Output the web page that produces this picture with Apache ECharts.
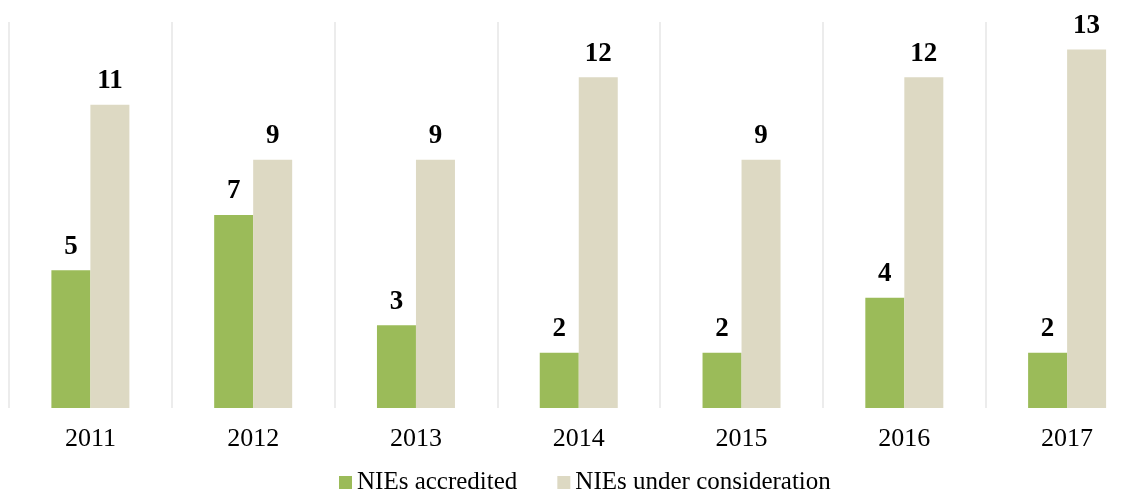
<!DOCTYPE html>
<html><head><meta charset="utf-8">
<script src="https://cdn.jsdelivr.net/npm/echarts@6/dist/echarts.min.js"></script>
<style>html,body{margin:0;padding:0;background:#fff;overflow:hidden}#c{width:1139px;height:491px}</style>
</head><body><div id="c"></div>
<script>
const categories = ['2011','2012','2013','2014','2015','2016','2017'];
const accredited = [5, 7, 3, 2, 2, 4, 2];
const underConsideration = [11, 9, 9, 12, 9, 12, 13];
const FONT = '"Liberation Serif", serif';
const chart = echarts.init(document.getElementById('c'));
const lbl = {show:true, position:'top', distance:10, fontFamily:FONT, fontWeight:'bold', fontSize:27, color:'#000'};
chart.setOption({
  animation:false,
  grid:{left:9, width:1139.5, top:22, height:386, containLabel:false, outerBoundsMode:'none'},
  legend:{top:465, left:334, itemWidth:13, itemHeight:13, itemGap:40, icon:'rect',
    textStyle:{fontFamily:FONT, fontSize:25, color:'#000'}},
  xAxis:{type:'category', data:categories, axisLine:{show:false}, axisTick:{show:false},
    axisLabel:{fontFamily:FONT, fontSize:26, color:'#000', margin:18},
    splitLine:{show:true, lineStyle:{color:'#ececec', width:2}}},
  yAxis:{type:'value', min:0, max:14, show:false, splitLine:{show:false}},
  series:[
    {name:'NIEs accredited', type:'bar', data:accredited, barWidth:39, barGap:'0%', itemStyle:{color:'#9BBB59'}, label:lbl},
    {name:'NIEs under consideration', type:'bar', data:underConsideration, barWidth:39, barGap:'0%', itemStyle:{color:'#DDD9C3'}, label:lbl}
  ]
});
</script></body></html>
